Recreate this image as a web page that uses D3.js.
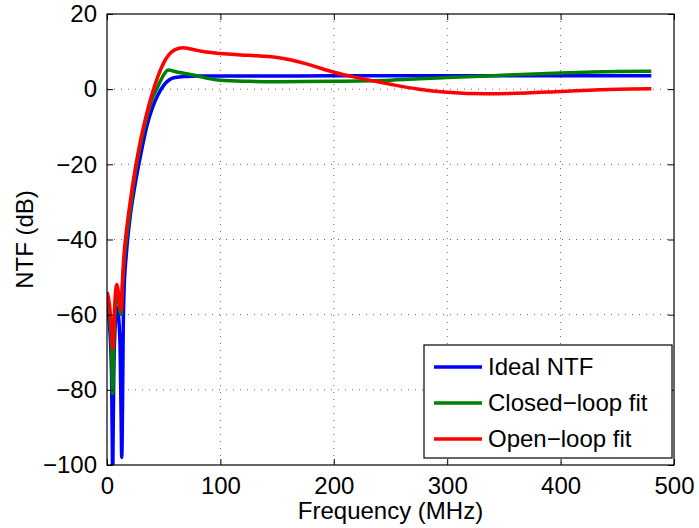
<!DOCTYPE html>
<html>
<head>
<meta charset="utf-8">
<script src="https://cdn.jsdelivr.net/npm/d3@7"></script>
<style>
  body { margin: 0; background: #fff; }
  text { font-family: "Liberation Sans", Arial, sans-serif; fill: #000; }
</style>
</head>
<body>
<div id="chart"></div>
<script>
// frequency (MHz) and NTF (dB)
var idealFreq = [0, 2, 4, 4.7, 5, 5.3, 6, 7.5, 8.5, 10, 11.5, 12.3, 13, 13.7, 14.3, 15, 17, 20, 25, 30, 35, 40, 45, 50, 55, 60, 70, 80, 100, 200, 300, 400, 480];
var idealNTF = [-58, -62, -76, -95, -110, -95, -76, -61, -58, -60, -68, -84, -98, -84, -64, -54, -44, -35, -25, -17, -10, -5, -1.5, 1, 2.5, 3.1, 3.4, 3.5, 3.5, 3.55, 3.6, 3.6, 3.6];

var closedFreq = [0, 2, 4, 5, 6, 7.5, 8.5, 10, 11.5, 12.5, 13.5, 15, 17, 20, 25, 30, 35, 40, 45, 50, 54, 60, 70, 80, 90, 100, 125, 150, 200, 250, 300, 340, 400, 450, 480];
var closedNTF = [-56, -59, -69, -81, -68, -57, -55, -56, -59, -60, -53, -46, -40, -33, -22, -14, -7.5, -2.5, 0.8, 3.8, 5.1, 4.7, 4.1, 3.5, 2.8, 2.4, 2.1, 2.0, 2.1, 2.4, 3.1, 3.6, 4.3, 4.7, 4.8];

var openFreq = [0, 2, 4, 5, 6, 7.5, 8.5, 10, 11.5, 12.5, 13.5, 15, 17, 20, 25, 30, 35, 40, 45, 50, 55, 60, 67, 75, 85, 100, 125, 150, 175, 200, 225, 250, 275, 300, 335, 370, 400, 450, 480];
var openNTF = [-54, -57, -64, -69, -63, -54, -52, -54, -58, -59, -52, -44, -38, -31, -21, -13, -6.5, -1, 3.5, 7, 9.3, 10.5, 11, 10.6, 10, 9.5, 9, 8.4, 6.8, 4.5, 2.8, 1.3, 0, -0.8, -1.2, -1, -0.6, 0, 0.1];

var seriesNames = ["Ideal NTF", "Closed\u2212loop fit", "Open\u2212loop fit"];
var seriesColors = ["#0000ff", "#008000", "#ff0000"];

var xTicks = [0, 100, 200, 300, 400, 500];
var yTicks = [20, 0, -20, -40, -60, -80, -100];

var margin = { top: 14, right: 25, bottom: 63, left: 107 };
var width = 699 - margin.left - margin.right;
var height = 528 - margin.top - margin.bottom;

var svg = d3.select("#chart")
    .append("svg")
    .attr("width", 699)
    .attr("height", 528);

var g = svg.append("g")
    .attr("transform", "translate(" + margin.left + "," + margin.top + ")");

var xScale = d3.scaleLinear().domain([0, 500]).range([0, width]);
var yScale = d3.scaleLinear().domain([-100, 20]).range([height, 0]);

// clip for curves
svg.append("defs").append("clipPath")
    .attr("id", "plotclip")
    .append("rect")
    .attr("width", width)
    .attr("height", height);

// dotted grid
g.selectAll(".vgrid")
    .data(xTicks.slice(1, -1))
    .enter()
    .append("line")
    .attr("x1", function (d) { return xScale(d); })
    .attr("x2", function (d) { return xScale(d); })
    .attr("y1", 0)
    .attr("y2", height)
    .attr("stroke", "#666")
    .attr("stroke-width", 1)
    .attr("stroke-dasharray", "1,6");

g.selectAll(".hgrid")
    .data(yTicks.slice(1, -1))
    .enter()
    .append("line")
    .attr("x1", 0)
    .attr("x2", width)
    .attr("y1", function (d) { return yScale(d); })
    .attr("y2", function (d) { return yScale(d); })
    .attr("stroke", "#666")
    .attr("stroke-width", 1)
    .attr("stroke-dasharray", "1,6");

// curves
var line = d3.line()
    .x(function (d) { return xScale(d[0]); })
    .y(function (d) { return yScale(d[1]); })
    .curve(d3.curveMonotoneX);

var allSeries = [
    d3.zip(idealFreq, idealNTF),
    d3.zip(closedFreq, closedNTF),
    d3.zip(openFreq, openNTF)
];

g.append("g")
    .attr("clip-path", "url(#plotclip)")
    .selectAll("path")
    .data(allSeries)
    .enter()
    .append("path")
    .attr("d", line)
    .attr("fill", "none")
    .attr("stroke", function (d, i) { return seriesColors[i]; })
    .attr("stroke-width", 3.5)
    .attr("stroke-linejoin", "round");

// axes with inward ticks on all four sides
var fmt = function (d) { return d < 0 ? "\u2212" + Math.abs(d) : "" + d; };

g.append("g")
    .attr("transform", "translate(0," + height + ")")
    .call(d3.axisBottom(xScale).tickValues(xTicks).tickSize(-6).tickPadding(12).tickFormat(fmt))
    .call(function (a) { a.select(".domain").remove(); });

g.append("g")
    .call(d3.axisTop(xScale).tickValues(xTicks).tickSize(-6).tickFormat(""))
    .call(function (a) { a.select(".domain").remove(); });

g.append("g")
    .call(d3.axisLeft(yScale).tickValues(yTicks).tickSize(-6).tickPadding(10).tickFormat(fmt))
    .call(function (a) { a.select(".domain").remove(); });

g.append("g")
    .attr("transform", "translate(" + width + ",0)")
    .call(d3.axisRight(yScale).tickValues(yTicks).tickSize(-6).tickFormat(""))
    .call(function (a) { a.select(".domain").remove(); });

g.selectAll(".tick line").attr("stroke", "#000");
g.selectAll(".tick text")
    .attr("font-size", 24)
    .style("font-family", "'Liberation Sans', Arial, sans-serif");

// frame
g.append("rect")
    .attr("width", width)
    .attr("height", height)
    .attr("fill", "none")
    .attr("stroke", "#000")
    .attr("stroke-width", 1.2);

// axis titles
svg.append("text")
    .attr("x", margin.left + width / 2)
    .attr("y", 519)
    .attr("text-anchor", "middle")
    .attr("font-size", 24)
    .text("Frequency (MHz)");

svg.append("text")
    .attr("transform", "translate(33," + (margin.top + height / 2) + ") rotate(-90)")
    .attr("text-anchor", "middle")
    .attr("font-size", 24)
    .text("NTF (dB)");

// legend
var legend = svg.append("g")
    .attr("transform", "translate(424,345)");

legend.append("rect")
    .attr("width", 248)
    .attr("height", 113)
    .attr("fill", "#fff")
    .attr("stroke", "#000")
    .attr("stroke-width", 1.2);

var rows = legend.selectAll(".row")
    .data(seriesNames)
    .enter()
    .append("g")
    .attr("transform", function (d, i) { return "translate(0," + (22 + i * 36) + ")"; });

rows.append("line")
    .attr("x1", 10)
    .attr("x2", 58)
    .attr("y1", 0)
    .attr("y2", 0)
    .attr("stroke", function (d, i) { return seriesColors[i]; })
    .attr("stroke-width", 3.5);

rows.append("text")
    .attr("x", 64)
    .attr("y", 0)
    .attr("dy", "0.35em")
    .attr("font-size", 24)
    .text(function (d) { return d; });
</script>
</body>
</html>
